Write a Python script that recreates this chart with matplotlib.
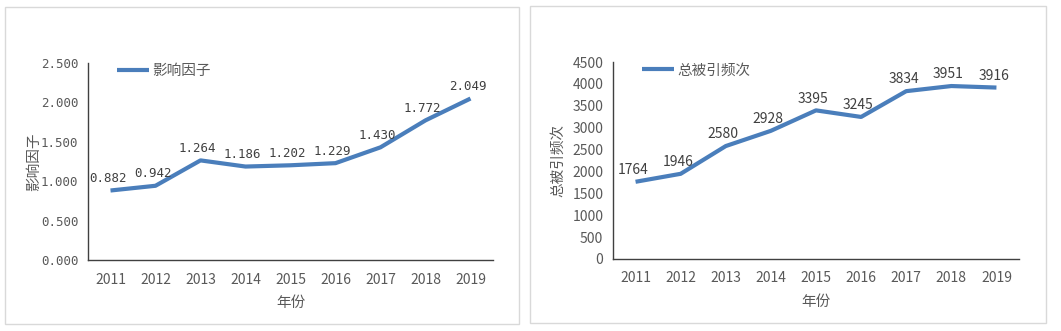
import matplotlib
matplotlib.use("Agg")
import matplotlib.pyplot as plt
from matplotlib.patches import Rectangle

plt.rcParams['font.family'] = ['Noto Sans CJK SC', 'DejaVu Sans']

years = ['2011', '2012', '2013', '2014', '2015', '2016', '2017', '2018', '2019']
impact_factor = [0.882, 0.942, 1.264, 1.186, 1.202, 1.229, 1.430, 1.772, 2.049]
citations = [1764, 1946, 2580, 2928, 3395, 3245, 3834, 3951, 3916]
if_ticks = [0.0, 0.5, 1.0, 1.5, 2.0, 2.5]
cit_ticks = [0, 500, 1000, 1500, 2000, 2500, 3000, 3500, 4000, 4500]

W, H = 1061, 331
fig = plt.figure(figsize=(W / 100, H / 100), dpi=100)

LINE = '#4A7EBB'
TXT = '#595959'
SPINE = '#404040'

# panel frames
for (x0, y0, x1, y1) in [(5, 7, 519, 324), (530, 6, 1046, 323)]:
    fig.add_artist(Rectangle((x0 / W, 1 - y1 / H), (x1 - x0) / W, (y1 - y0) / H,
                             transform=fig.transFigure, fill=False,
                             edgecolor='#d9d9d9', linewidth=1))


def make_axes(left, right, top, bottom):
    return fig.add_axes([left / W, 1 - bottom / H, (right - left) / W, (bottom - top) / H])


def style(ax, ymax):
    ax.set_xlim(-0.5, len(years) - 0.5)
    ax.set_ylim(0, ymax)
    for s in ['top', 'right']:
        ax.spines[s].set_visible(False)
    for s in ['left', 'bottom']:
        ax.spines[s].set_color(SPINE)
        ax.spines[s].set_linewidth(1.0)
    ax.tick_params(length=0, colors=TXT, labelsize=10)
    ax.tick_params(axis='x', pad=9)
    ax.tick_params(axis='y', pad=7)
    ax.set_xticks(range(len(years)))
    ax.set_xticklabels(years)
    ax.patch.set_alpha(0)


# Left chart
ax1 = make_axes(88, 493, 63, 260)
style(ax1, 2.5)
ax1.plot(range(len(years)), impact_factor, color=LINE, linewidth=3, solid_capstyle='butt',
         label='影响因子')
ax1.set_yticks(if_ticks)
ax1.set_yticklabels([f'{v:.3f}' for v in if_ticks], family='DejaVu Sans Mono', fontsize=9)
for i, v in enumerate(impact_factor):
    ax1.annotate(f'{v:.3f}', (i, v), xytext=(-2, 4), textcoords='offset points',
                 ha='center', va='bottom', fontsize=9, color='#404040',
                 family='DejaVu Sans Mono')
ax1.set_xlabel('年份', color=TXT, fontsize=10.5, labelpad=7)
ax1.set_ylabel('影响因子', color=TXT, fontsize=10.5, labelpad=0)
ax1.yaxis.set_label_coords(-0.116, 0.5)
ax1.legend(loc='upper left', bbox_to_anchor=(0.04, 1.06), frameon=False, fontsize=10.5,
           handlelength=2.2, handletextpad=0.2, labelcolor=TXT)

# Right chart
ax2 = make_axes(613, 1019, 62, 259)
style(ax2, 4500)
ax2.plot(range(len(years)), citations, color=LINE, linewidth=3, solid_capstyle='butt',
         label='总被引频次')
ax2.set_yticks(cit_ticks)
ax2.set_yticklabels([str(v) for v in cit_ticks])
for i, v in enumerate(citations):
    ax2.annotate(f'{v}', (i, v), xytext=(-2, 3.5), textcoords='offset points',
                 ha='center', va='bottom', fontsize=10, color='#404040')
ax2.set_xlabel('年份', color=TXT, fontsize=10.5, labelpad=7)
ax2.set_ylabel('总被引频次', color=TXT, fontsize=10.5, labelpad=0)
ax2.yaxis.set_label_coords(-0.118, 0.5)
ax2.legend(loc='upper left', bbox_to_anchor=(0.04, 1.06), frameon=False, fontsize=10.5,
           handlelength=2.2, handletextpad=0.2, labelcolor=TXT)

fig.savefig('out.png', dpi=100)
